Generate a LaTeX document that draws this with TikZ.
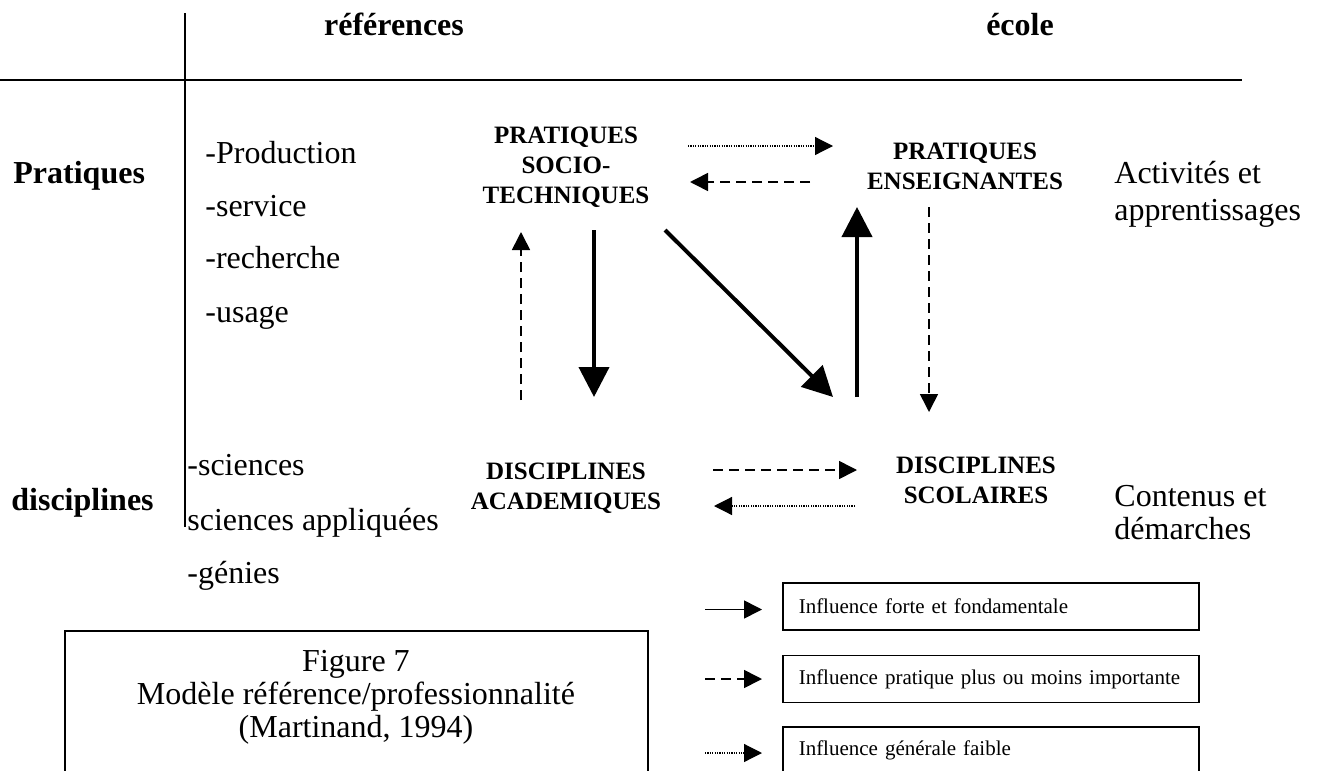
\documentclass[tikz,border=0pt]{standalone}
\usepackage{fontspec}
\setmainfont{Liberation Serif}
\usetikzlibrary{arrows.meta,calc}

\begin{document}
\begin{tikzpicture}[x=0.5pt,y=-0.5pt,
tx/.style={font=\fontsize{16}{16.5}\selectfont,inner sep=0pt},
hd/.style={font=\bfseries\fontsize{16}{16.5}\selectfont,inner sep=0pt},
blk/.style={font=\bfseries\fontsize{12.5}{15}\selectfont,align=center,inner sep=0pt},
lg/.style={draw,line width=0.75pt,font=\fontsize{10.5}{12}\selectfont,text width=192pt,
inner xsep=8pt,inner ysep=0pt,minimum height=23.5pt,align=left},
fat/.style={line width=2pt,-{Triangle[length=15pt,width=15pt]}},
arr/.style={line width=0.8pt,-{Triangle[length=9pt,width=9pt]}},
dsh/.style={arr,dash pattern=on 5pt off 3pt},
dot/.style={arr,line width=0.6pt,dash pattern=on 0.6pt off 0.6pt}]
\useasboundingbox (0,0) rectangle (1344,771);
\draw[line width=0.8pt] (185,13) -- (185,527);
\draw[line width=0.8pt] (0,80) -- (1242,80);
\node[hd,anchor=base] (refs) at (394,35) {références};
\node[hd,anchor=base] (ecole) at (1020,35) {école};
\node[hd,anchor=base west] (prat) at (13,183) {Pratiques};
\node[hd,anchor=base west] (disc) at (11,510) {disciplines};
\node[tx,anchor=base west] (prod) at (205,163) {-Production};
\node[tx,anchor=base west] (serv) at (205,216) {-service};
\node[tx,anchor=base west] (rech) at (205,268) {-recherche};
\node[tx,anchor=base west] (usage) at (205,322) {-usage};
\node[tx,anchor=base west] (sci) at (187,475) {-sciences};
\node[tx,anchor=base west] (sciapp) at (187,530) {sciences appliquées};
\node[tx,anchor=base west] (gen) at (187,583) {-génies};
\node[blk] (pst) at (566,167) {PRATIQUES\\SOCIO-\\TECHNIQUES};
\node[blk] (pe) at (965,166) {PRATIQUES\\ENSEIGNANTES};
\node[blk] (da) at (566,488) {DISCIPLINES\\ACADEMIQUES};
\node[blk] (ds) at (976,480) {DISCIPLINES\\SCOLAIRES};
\node[tx,align=left,anchor=north west,font=\fontsize{16}{18.5}\selectfont] (act) at (1114,161) {Activités et\\apprentissages};
\node[tx,align=left,anchor=north west] (cont) at (1114,485) {Contenus et\\démarches};
\draw[dot] ($(pst)+(122,-21)$) -- ($(pe)+(-132,-20)$);
\draw[dsh] ($(pe)+(-155,16)$) -- ($(pst)+(124,15)$);
\draw[fat] ($(pst)+(28,63)$) -- ($(da)+(28,-91)$);
\draw[dsh] ($(da)+(-45,-88)$) -- ($(pst)+(-45,65)$);
\draw[fat] ($(pst)+(99,63)$) -- ($(ds)+(-143,-83)$);
\draw[fat] ($(ds)+(-119,-83)$) -- ($(pe)+(-108,41)$);
\draw[dsh] ($(pe)+(-36,41)$) -- ($(ds)+(-47,-68)$);
\draw[dsh] ($(da)+(147,-18)$) -- ($(ds)+(-119,-10)$);
\draw[dot] ($(ds)+(-121,26)$) -- ($(da)+(148,18)$);
\node[lg,anchor=west] (leg1) at (782,606.5) {Influence forte et fondamentale};
\node[lg,anchor=west] (leg2) at (782,679) {Influence pratique plus ou moins importante};
\node[lg,anchor=west] (leg3) at (782,750.5) {Influence générale faible};
\draw[arr] ($(leg1.west)+(-77,3)$) -- ($(leg1.west)+(-20,3)$);
\draw[dsh] ($(leg2.west)+(-77,0)$) -- ($(leg2.west)+(-20,0)$);
\draw[dot] ($(leg3.west)+(-77,2.5)$) -- ($(leg3.west)+(-20,2.5)$);
\node[draw,line width=0.75pt,minimum width=291.5pt,minimum height=85pt,anchor=north,inner sep=0pt] (figbox) at (356.5,630) {};
\node[tx,align=center,anchor=north] (fig) at (356,650) {Figure 7\\Modèle référence/professionnalité\\(Martinand, 1994)};
\end{tikzpicture}
\end{document}
